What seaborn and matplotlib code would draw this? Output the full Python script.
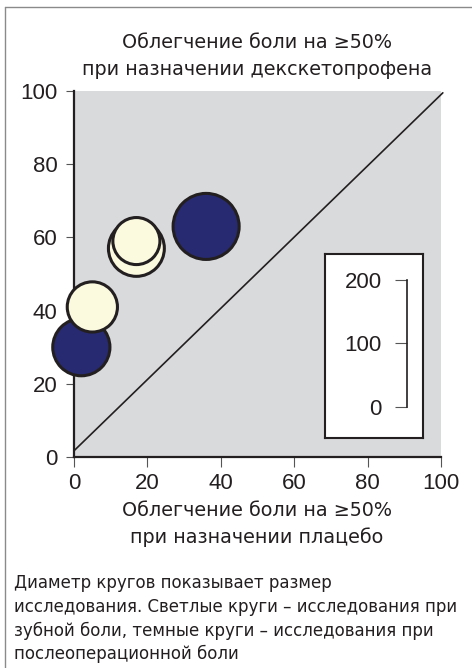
import matplotlib
matplotlib.use("Agg")
import matplotlib.pyplot as plt
import seaborn as sns
import pandas as pd
from matplotlib.lines import Line2D

# data
placebo = [2, 5, 17, 17, 36]
dexketo = [30, 41, 57, 59, 63]
study_size = [95, 84, 93, 79, 109]
pain_type = ["postop", "dental", "dental", "dental", "postop"]
axis_ticks = [0, 20, 40, 60, 80, 100]
scale_ticks = [0, 100, 200]

title = "Облегчение боли на ≥50%\nпри назначении декскетопрофена"
xlab = "Облегчение боли на ≥50%\nпри назначении плацебо"
caption = ("Диаметр кругов показывает размер\n"
           "исследования. Светлые круги – исследования при\n"
           "зубной боли, темные круги – исследования при\n"
           "послеоперационной боли")

data = pd.DataFrame({"placebo": placebo, "dexketo": dexketo,
                     "n": study_size, "type": pain_type})

sns.set_style("ticks")
plt.rcParams["font.family"] = ["DejaVu Sans"]

W, H = 472, 668
fig = plt.figure(figsize=(W / 100, H / 100), dpi=100)

ax = fig.add_axes([74 / W, 1 - 457 / H, 367 / W, 366 / H])
ax.set_facecolor("#d9dadc")

# 200 patients = 126.7 px on the scale bracket
px_per_n = 126.7 / 200
sizes = {n: ((n * px_per_n - 3) * 0.72) ** 2 for n in study_size}
sns.scatterplot(data=data, x="placebo", y="dexketo", hue="type", size="n",
                sizes=sizes, palette={"dental": "#fbfadf", "postop": "#272a70"},
                edgecolor="#231f20", linewidth=2.2, legend=False, ax=ax,
                zorder=3, clip_on=False)

ax.plot([0, 100.5], [1.7, 99.5], color="#231f20", lw=1.2, zorder=2, clip_on=False)

ax.set_xlim(0, 100)
ax.set_ylim(0, 100)
ax.set_xticks(axis_ticks)
ax.set_yticks(axis_ticks)
ax.set_xlabel("")
ax.set_ylabel("")
for s in ["top", "right"]:
    ax.spines[s].set_visible(False)
for s in ["left", "bottom"]:
    ax.spines[s].set_color("#231f20")
    ax.spines[s].set_linewidth(1.6)
ax.tick_params(axis="x", length=7.2, width=0.8, color="#555555", pad=4,
               labelsize=16, labelcolor="#231f20")
ax.tick_params(axis="y", length=5.8, width=0.8, color="#555555", pad=6,
               labelsize=16, labelcolor="#231f20")
for lab in ax.get_xticklabels() + ax.get_yticklabels():
    lab.set_family("Liberation Sans")

# size key
lax = fig.add_axes([325 / W, 1 - 438 / H, 98 / W, 184 / H])
lax.set_facecolor("white")
lax.set_xticks([])
lax.set_yticks([])
for s in lax.spines.values():
    s.set_color("#231f20")
    s.set_linewidth(1.5)

sax = fig.add_axes([407 / W, 1 - 406.7 / H, 0.01, 126.7 / H])
sax.patch.set_alpha(0)
sax.set_ylim(0, 200)
sax.set_yticks(scale_ticks)
sax.set_xticks([])
for s in ["top", "right", "bottom"]:
    sax.spines[s].set_visible(False)
sax.spines["left"].set_color("#231f20")
sax.spines["left"].set_linewidth(1.2)
sax.tick_params(axis="y", length=8.6, width=0.8, color="#555555", pad=9.5,
                labelsize=16, labelcolor="#231f20")
for lab in sax.get_yticklabels():
    lab.set_family("Liberation Sans")

fig.text(257 / W, 1 - 56 / H, title, ha="center", va="center",
         fontsize=13.8, linespacing=1.5, color="#231f20")
fig.text(257 / W, 1 - 524 / H, xlab, ha="center", va="center",
         fontsize=13.8, linespacing=1.5, color="#231f20")
fig.text(14 / W, 1 - 574 / H, caption, ha="left", va="top",
         fontsize=12, linespacing=1.4, color="#231f20")

# frame lines (top and left)
fig.add_artist(Line2D([5 / W, 5 / W], [0, 1 - 7 / H], transform=fig.transFigure,
                      color="#8a8a8a", lw=1))
fig.add_artist(Line2D([5 / W, 1], [1 - 7 / H, 1 - 7 / H], transform=fig.transFigure,
                      color="#8a8a8a", lw=1))

fig.savefig("out.png", dpi=100)
